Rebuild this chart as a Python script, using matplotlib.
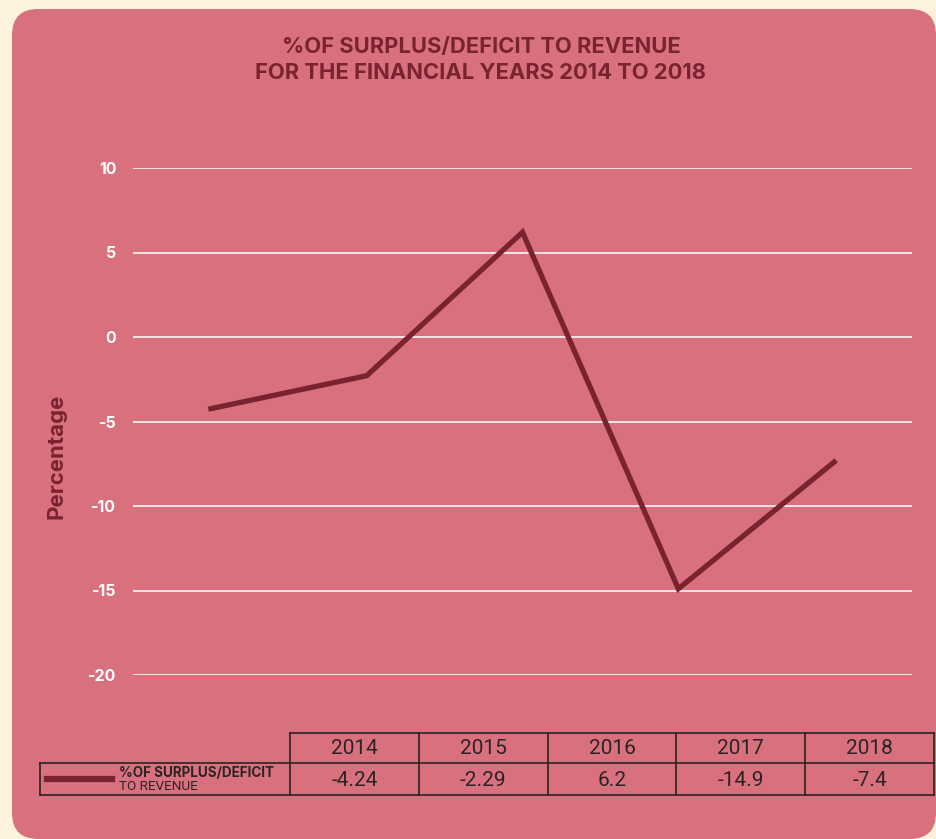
import matplotlib
matplotlib.use("Agg")
import matplotlib.pyplot as plt
from matplotlib.patches import FancyBboxPatch
from matplotlib.lines import Line2D

years = ["2014", "2015", "2016", "2017", "2018"]
values = [-4.24, -2.29, 6.2, -14.9, -7.4]
value_labels = ["-4.24", "-2.29", "6.2", "-14.9", "-7.4"]
y_ticks = [10, 5, 0, -5, -10, -15, -20]
title = "%OF SURPLUS/DEFICIT TO REVENUE\nFOR THE FINANCIAL YEARS 2014 TO 2018"
series_name_bold = "%OF SURPLUS/DEFICIT"
series_name_rest = "TO REVENUE"

W, H = 936, 839
CREAM = "#fdf3dc"
PINK = "#d9707e"
DARK = "#7a2330"
INK = "#2b2326"

plt.rcParams['font.family'] = ['Inter', 'DejaVu Sans']

fig = plt.figure(figsize=(W / 100, H / 100), dpi=100)
fig.patch.set_facecolor(CREAM)

def fx(px):
    return px / W

def fy(py):
    return 1 - py / H

# rounded panel
panel = FancyBboxPatch((fx(12), fy(839)), fx(936) - fx(12), fy(9) - fy(839),
                       boxstyle="round,pad=0,rounding_size=0.028",
                       transform=fig.transFigure, facecolor=PINK, edgecolor="none",
                       mutation_aspect=W / H, zorder=0)
fig.add_artist(panel)

# title
fig.text(fx(481), fy(60), title, ha="center", va="center", color=DARK,
         fontsize=15.8, fontweight="bold", linespacing=1.4)

# main axes
ax = fig.add_axes([fx(133), fy(675), fx(912) - fx(133), fy(168) - fy(675)])
ax.set_facecolor("none")
ax.set_xlim(-0.5, len(years) - 0.5)
ax.set_ylim(min(y_ticks), max(y_ticks))
ax.set_yticks(y_ticks)
ax.set_yticklabels([str(t) for t in y_ticks], color="white", fontsize=11.5,
                   fontweight="bold")
ax.tick_params(axis="y", length=0, pad=12)
ax.set_xticks([])
for s in ax.spines.values():
    s.set_visible(False)
for t in y_ticks:
    ax.axhline(t, color="white", lw=1.2, zorder=1, alpha=0.95)
ax.plot(range(len(years)), values, color=DARK, lw=3.8, zorder=3,
        solid_joinstyle="miter", clip_on=False)

fig.text(fx(56), fy(456), "Percentage", rotation=90, ha="center", va="center",
         color=DARK, fontsize=16, fontweight="bold")

# table
tab_left, lab_right, tab_right = 40, 290, 934
top, mid, bot = 733, 763, 795
col_w = (tab_right - lab_right) / len(years)
lw_t = 1.2
def hline(x0, x1, y):
    fig.add_artist(Line2D([fx(x0), fx(x1)], [fy(y), fy(y)], color=INK, lw=lw_t,
                          transform=fig.transFigure))
def vline(x, y0, y1):
    fig.add_artist(Line2D([fx(x), fx(x)], [fy(y0), fy(y1)], color=INK, lw=lw_t,
                          transform=fig.transFigure))
hline(lab_right, tab_right, top)
hline(tab_left, tab_right, mid)
hline(tab_left, tab_right, bot)
vline(tab_left, mid, bot)
for i in range(len(years) + 1):
    vline(lab_right + i * col_w, top, bot)

for i, (yr, vl) in enumerate(zip(years, value_labels)):
    cx = lab_right + (i + 0.5) * col_w
    fig.text(fx(cx), fy((top + mid) / 2 + 1), yr, ha="center", va="center",
             color=INK, fontsize=15, family=["Roboto", "DejaVu Sans"])
    fig.text(fx(cx), fy((mid + bot) / 2 + 1), vl, ha="center", va="center",
             color=INK, fontsize=15, family=["Roboto", "DejaVu Sans"])

fig.add_artist(Line2D([fx(47), fx(112)], [fy(779), fy(779)], color=DARK, lw=4.5,
                      transform=fig.transFigure))
fig.text(fx(119), fy(773), series_name_bold, ha="left", va="center", color=INK,
         fontsize=9.7, fontweight="bold")
fig.text(fx(119), fy(786), series_name_rest, ha="left", va="center", color=INK,
         fontsize=9.7, family=["Roboto", "DejaVu Sans"])

fig.savefig("out.png", dpi=100, facecolor=CREAM)
